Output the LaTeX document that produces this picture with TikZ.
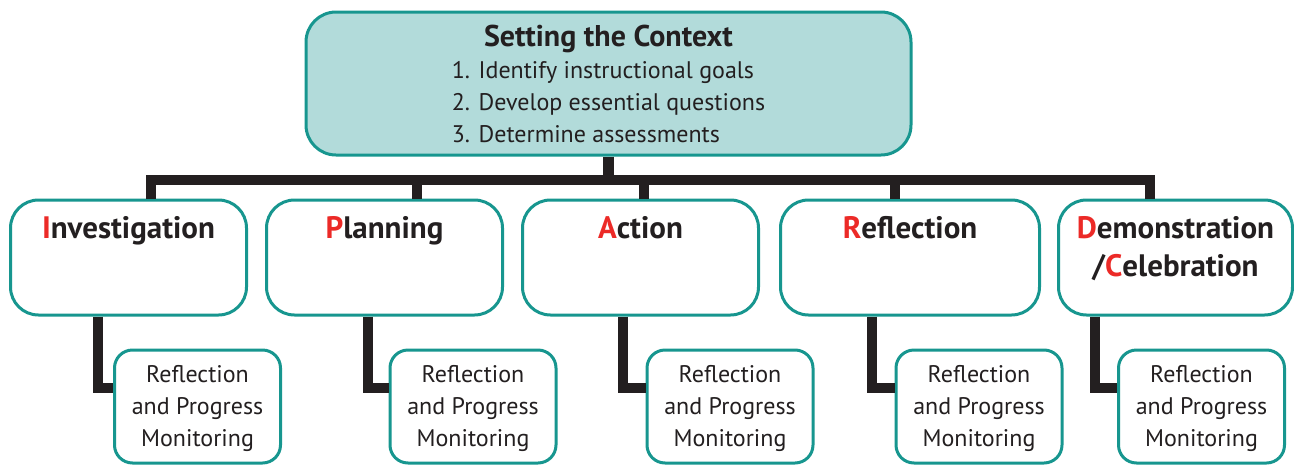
\documentclass[tikz,border=0pt]{standalone}
\usepackage{fontspec}
\setmainfont{PT Sans}
\usepackage{xcolor}
\usetikzlibrary{positioning}

\definecolor{boxteal}{HTML}{17968F}
\definecolor{ctxfill}{HTML}{B2DBDA}
\definecolor{capred}{HTML}{EC2A27}
\definecolor{bardark}{HTML}{231F20}
\newcommand{\redcap}[1]{\textcolor{capred}{#1}}

\tikzset{
  every node/.style={text=bardark},
  phase/.style={draw=boxteal,line width=3pt,rounded corners=28pt,fill=white,inner sep=0pt,minimum width=236pt,text height=38pt,text depth=77pt,align=center,font=\fontsize{31}{38}\selectfont\bfseries},
  monitor/.style={draw=boxteal,line width=3pt,rounded corners=18pt,fill=white,inner sep=0pt,minimum width=166pt,text height=96pt,text depth=17pt,align=center,font=\fontsize{24}{32}\selectfont},
  bar/.style={draw=bardark,line width=10.5pt,line join=miter}
}

\begin{document}
\begin{tikzpicture}[x=1pt,y=-1pt]
        \useasboundingbox (0,0) rectangle (1294,464);
        %nodes
        \node[draw=boxteal,line width=3pt,rounded corners=30pt,fill=ctxfill,inner sep=0pt,minimum width=605pt,text height=66pt,text depth=77pt,align=center,font=\fontsize{24}{32}\selectfont] (ctx) at (608.5,83.5)
            {{\fontsize{30}{32}\selectfont\bfseries Setting the Context}\\
             \begin{tabular}[t]{@{}l@{}}1. Identify instructional goals\\2. Develop essential questions\\3. Determine assessments\end{tabular}};

        \node[phase] (inv) at (128.5,257.5) {\redcap{I}nvestigation};
        \node[phase,right=17pt of inv] (pla) {\redcap{P}lanning};
        \node[phase,right=17pt of pla] (act) {\redcap{A}ction};
        \node[phase,right=19pt of act,minimum width=259pt] (ref) {\redcap{R}eflection};
        \node[phase,right=16pt of ref,minimum width=234pt,text height=76pt,text depth=39pt] (dem) {\redcap{D}emonstration\\/\redcap{C}elebration};

        \node[monitor] (inv-m) at (197.5,406.5) {Reflection\\and Progress\\Monitoring};
        \node[monitor] (pla-m) at (473,406.5) {Reflection\\and Progress\\Monitoring};
        \node[monitor] (act-m) at (730,406.5) {Reflection\\and Progress\\Monitoring};
        \node[monitor] (ref-m) at (979,406.5) {Reflection\\and Progress\\Monitoring};
        \node[monitor] (dem-m) at (1201.5,406.5) {Reflection\\and Progress\\Monitoring};

        %connectors
        \coordinate (bar-l) at (151,180);
        \coordinate (bar-r) at (1150,180);
        \draw[bar] (ctx.south) -- (ctx.south |- bar-l);
        \draw[bar] (bar-l |- inv.north) -- (bar-l) -- (bar-r) -- (bar-r |- dem.north);
        \foreach \n/\x in {pla/417,act/644,ref/895}{
            \coordinate (drop) at (\x,180);
            \draw[bar] (drop) -- (drop |- \n.north);
        }
        \foreach \n/\x in {inv/98,pla/368,act/623,ref/872,dem/1095}{
            \coordinate (elbow) at (\x,388);
            \draw[bar] (elbow |- \n.south) -- (elbow) -- (elbow -| \n-m.west);
        }
\end{tikzpicture}
\end{document}
